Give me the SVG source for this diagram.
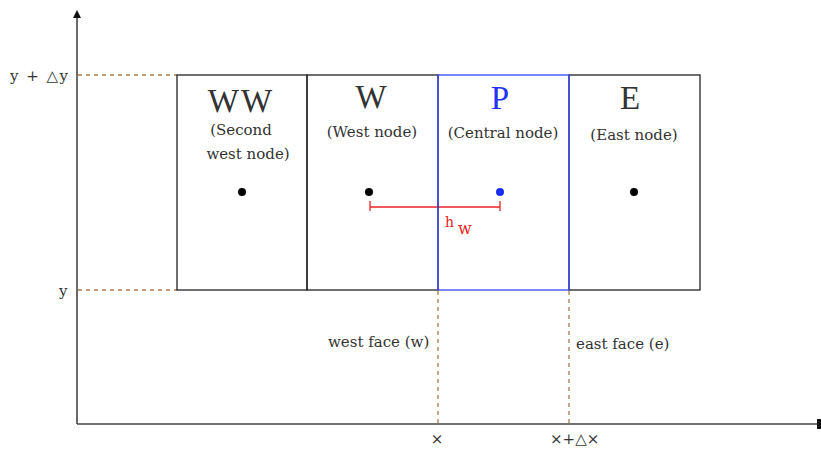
<svg xmlns="http://www.w3.org/2000/svg" width="821" height="449" viewBox="0 0 821 449">
<style>
.big{font-family:"Liberation Serif",serif;font-size:33px;text-anchor:middle;fill:#333}
.sub{font-family:"DejaVu Serif",serif;font-size:15px;text-anchor:middle;fill:#333}
.lab{font-family:"DejaVu Serif",serif;font-size:15px;fill:#333}
.cell{fill:none;stroke:#222;stroke-width:1.3}
.dash{stroke:#b07a45;stroke-width:1.3;stroke-dasharray:4 4;fill:none}
.axis{stroke:#444;stroke-width:1.6;fill:none}
</style>
<defs>
<marker id="arr" markerWidth="8" markerHeight="8" refX="6" refY="4" orient="auto" markerUnits="userSpaceOnUse">
<path d="M0,0 L8,4 L0,8 Z" fill="#111"/>
</marker>
</defs>
<rect width="821" height="449" fill="#fff"/>
<g id="connectors">
<line class="axis" x1="77" y1="424" x2="77" y2="12" marker-end="url(#arr)"/>
<line class="axis" x1="77" y1="424" x2="819" y2="424"/>
<rect x="817" y="419" width="4" height="10" fill="#111"/>
<line class="dash" x1="78" y1="75" x2="177" y2="75"/>
<line class="dash" x1="78" y1="290" x2="177" y2="290"/>
<line class="dash" x1="438" y1="291" x2="438" y2="423"/>
<line class="dash" x1="569" y1="291" x2="569" y2="423"/>
<g stroke="#e22" stroke-width="1.3">
<line x1="370" y1="207" x2="500" y2="207"/>
<line x1="370" y1="201" x2="370" y2="211"/>
<line x1="500" y1="201" x2="500" y2="211"/>
</g>
</g>
<g id="node-WW">
<rect class="cell" x="177" y="75" width="130" height="215"/>
<text class="big" x="241" y="112" letter-spacing="2">WW</text>
<text class="sub" x="241" y="135">(Second</text>
<text class="sub" x="248" y="159">west node)</text>
<circle cx="242" cy="192" r="4" fill="#000"/>
</g>
<g id="node-E">
<rect class="cell" x="569" y="75" width="131" height="215"/>
<text class="big" x="630" y="109">E</text>
<text class="sub" x="634" y="140">(East node)</text>
<circle cx="634" cy="192" r="4" fill="#000"/>
</g>
<g id="node-W">
<rect class="cell" x="307" y="75" width="131" height="215"/>
<text class="big" x="371" y="108">W</text>
<text class="sub" x="372" y="137">(West node)</text>
<circle cx="369" cy="192" r="4" fill="#000"/>
</g>
<g id="node-P">
<rect x="438" y="75" width="131" height="215" fill="none" stroke="#3344ff" stroke-width="1.3"/>
<text class="big" x="500" y="109" style="fill:#2233ee">P</text>
<text class="sub" x="503" y="138">(Central node)</text>
<circle cx="500" cy="192" r="4" fill="#1a2cf0"/>
</g>
<g id="labels">
<text x="445" y="227" font-family="DejaVu Serif, serif" font-size="14" fill="#e22">h</text>
<text x="458" y="234" font-family="DejaVu Serif, serif" font-size="16" fill="#e22">w</text>
<text class="lab" x="10" y="81" letter-spacing="1.5" xml:space="preserve">y + △y</text>
<text class="lab" x="59" y="296">y</text>
<text class="lab" x="328" y="347">west face (w)</text>
<text class="lab" x="576" y="349">east face (e)</text>
<text class="lab" x="437" y="444" text-anchor="middle">×</text>
<text class="lab" x="550" y="444">×+△×</text>
</g>
</svg>
